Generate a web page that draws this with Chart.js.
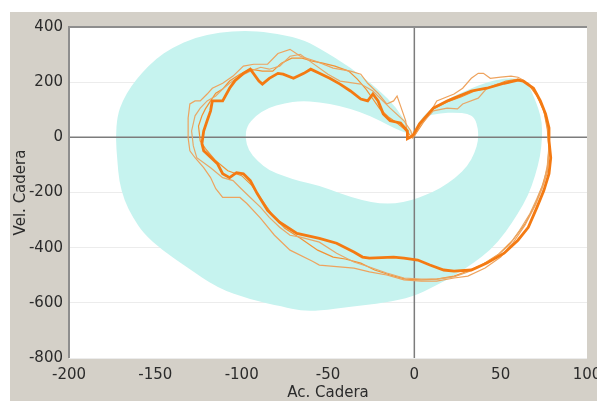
<!DOCTYPE html>
<html>
<head>
<meta charset="utf-8">
<script src="https://cdn.jsdelivr.net/npm/chart.js@4.4.1/dist/chart.umd.min.js"></script>
<style>
  body { margin: 0; background: #ffffff; overflow: hidden; width: 597px; height: 401px; }
  #panel { position: absolute; left: 10px; top: 12px; width: 601px; height: 389px; background: #d4d0c8; }
</style>
</head>
<body>
<div id="panel"><canvas id="phase" width="601" height="389"></canvas></div>
<script>
// ---- data: [Ac. Cadera, Vel. Cadera] ----
const xTickValues = [-200, -150, -100, -50, 0, 50, 100];
const yTickValues = [-800, -600, -400, -200, 0, 200, 400];

// normal band (outer edge and the hole inside it)
const bandOuter = [[-1,13],[2,52],[8,96],[15,124],[24,153],[33,178],[42,200],[52,214],[60,214],[66,193],[69,150],[72,103],[74,52],[74,-2],[73,-67],[70,-139],[66,-211],[60,-276],[53,-344],[44,-409],[34,-456],[24,-499],[12,-539],[-1,-578],[-17,-600],[-37,-614],[-55,-629],[-66,-629],[-76,-614],[-95,-589],[-114,-546],[-132,-470],[-146,-409],[-157,-348],[-163,-290],[-168,-229],[-171,-157],[-172,-85],[-173,-2],[-172,78],[-169,132],[-164,186],[-158,232],[-150,283],[-140,326],[-127,362],[-113,380],[-98,387],[-84,380],[-66,359],[-55,323],[-37,254],[-21,175],[-10,106],[-2,23]];
const bandInner = [[-98,-2],[-97,41],[-92,78],[-85,106],[-75,124],[-66,132],[-55,128],[-43,114],[-31,92],[-20,60],[-11,31],[-5,16],[-2,9],[1,40],[6,75],[15,88],[24,90],[31,86],[35,70],[37,31],[37,-13],[35,-56],[31,-103],[24,-146],[15,-186],[6,-211],[-2,-229],[-11,-240],[-20,-240],[-30,-229],[-43,-204],[-55,-175],[-66,-160],[-75,-142],[-84,-121],[-91,-85],[-96,-49]];

// measured cycles
const cycleMain = [[-1,5],[3,49],[11,106],[19,132],[23,142],[33,168],[42,178],[52,196],[60,207],[63,204],[69,178],[73,132],[76,85],[78,34],[78,-13],[79,-74],[78,-132],[75,-193],[71,-254],[66,-326],[60,-373],[52,-420],[42,-456],[33,-481],[23,-485],[17,-481],[9,-463],[2,-445],[-6,-438],[-12,-434],[-26,-438],[-30,-434],[-35,-416],[-45,-384],[-55,-366],[-68,-348],[-78,-308],[-85,-265],[-91,-204],[-95,-157],[-99,-132],[-103,-128],[-107,-146],[-111,-132],[-114,-96],[-120,-60],[-122,-49],[-123,-23],[-122,23],[-120,60],[-118,96],[-117,132],[-111,132],[-107,178],[-104,204],[-99,232],[-95,247],[-90,204],[-88,193],[-84,214],[-79,232],[-76,229],[-70,214],[-64,232],[-60,247],[-55,232],[-49,214],[-43,193],[-37,168],[-31,139],[-27,132],[-24,157],[-21,132],[-18,85],[-14,60],[-8,52],[-4,23],[-4,-5],[-1,5]];
const cycleA = [[0,13],[3,52],[9,88],[13,132],[23,157],[28,178],[33,214],[37,232],[40,232],[44,214],[50,218],[56,222],[60,218],[64,204],[70,168],[74,114],[77,60],[78,-2],[78,-67],[77,-128],[74,-186],[70,-247],[64,-319],[57,-384],[50,-434],[41,-474],[31,-503],[23,-510],[13,-521],[4,-521],[-6,-517],[-16,-499],[-26,-488],[-35,-474],[-55,-463],[-59,-449],[-72,-409],[-81,-355],[-89,-294],[-97,-240],[-101,-218],[-111,-218],[-115,-186],[-118,-146],[-122,-110],[-127,-74],[-130,-49],[-131,-2],[-131,70],[-130,121],[-127,132],[-124,132],[-120,157],[-117,178],[-111,196],[-105,222],[-99,258],[-93,265],[-85,265],[-79,304],[-72,319],[-66,294],[-57,276],[-47,251],[-37,240],[-31,229],[-27,196],[-21,160],[-16,121],[-12,132],[-10,150],[-8,114],[-5,60],[-4,-2],[0,13]];
const cycleB = [[0,5],[3,41],[11,96],[19,106],[25,103],[28,121],[37,142],[42,178],[48,193],[54,196],[60,211],[66,196],[71,160],[75,103],[77,41],[78,-31],[77,-103],[75,-164],[71,-222],[67,-276],[61,-337],[55,-391],[47,-434],[38,-467],[31,-488],[23,-506],[13,-514],[4,-514],[-6,-510],[-16,-492],[-26,-470],[-35,-452],[-45,-420],[-55,-380],[-66,-362],[-72,-355],[-78,-326],[-84,-290],[-89,-254],[-95,-218],[-101,-182],[-105,-157],[-111,-146],[-118,-110],[-126,-74],[-128,-31],[-129,23],[-127,78],[-124,106],[-120,132],[-115,150],[-111,175],[-107,196],[-101,222],[-95,240],[-89,254],[-84,247],[-78,258],[-72,294],[-66,301],[-59,269],[-50,229],[-43,204],[-31,193],[-24,168],[-14,106],[-6,60],[-2,23],[-1,-2],[0,5]];
const cycleC = [[0,5],[5,52],[11,103],[19,128],[27,146],[35,168],[44,182],[53,204],[60,211],[66,193],[71,150],[75,96],[77,31],[78,-41],[77,-114],[74,-178],[70,-243],[64,-315],[57,-373],[49,-423],[39,-463],[31,-485],[23,-503],[13,-514],[4,-517],[-5,-514],[-14,-499],[-23,-481],[-31,-456],[-40,-441],[-47,-434],[-56,-409],[-66,-366],[-75,-330],[-82,-283],[-88,-229],[-94,-175],[-100,-139],[-108,-121],[-115,-85],[-121,-41],[-124,-13],[-125,41],[-123,78],[-121,103],[-118,132],[-115,160],[-111,175],[-107,204],[-101,229],[-95,247],[-88,240],[-82,240],[-77,269],[-71,287],[-65,287],[-59,276],[-53,269],[-46,258],[-38,240],[-33,211],[-28,175],[-24,139],[-20,103],[-15,74],[-10,52],[-6,31],[-2,5],[0,5]];

const toPoints = arr => arr.map(([a, v]) => ({ x: a, y: v }));

// band drawn through the scales, under the cycles
const bandPlugin = {
    id: 'band',
    beforeDraw(chart) {
        // white plot area
        const { ctx, chartArea } = chart;
        ctx.save();
        ctx.fillStyle = '#ffffff';
        ctx.fillRect(chartArea.left, chartArea.top, chartArea.width, chartArea.height);
        ctx.restore();
    },
    beforeDatasetsDraw(chart) {
        const { ctx, chartArea, scales: { x, y } } = chart;
        ctx.save();
        ctx.beginPath();
        ctx.rect(chartArea.left, chartArea.top, chartArea.width, chartArea.height);
        ctx.clip();
        ctx.beginPath();
        [bandOuter, bandInner].forEach(ring => {
            const pts = ring.map(([a, v]) => [x.getPixelForValue(a), y.getPixelForValue(v)]);
            const n = pts.length;
            const mid = i => [(pts[i][0] + pts[(i + 1) % n][0]) / 2, (pts[i][1] + pts[(i + 1) % n][1]) / 2];
            ctx.moveTo(...mid(n - 1));
            for (let i = 0; i < n; i++) {
                const m = mid(i);
                ctx.quadraticCurveTo(pts[i][0], pts[i][1], m[0], m[1]);
            }
            ctx.closePath();
        });
        ctx.fillStyle = '#c6f3ef';
        ctx.fill('evenodd');
        ctx.restore();
    },
    afterDatasetsDraw(chart) {
        // sunken frame: left and top edges
        const { ctx, chartArea } = chart;
        ctx.save();
        ctx.strokeStyle = '#8e8e8e';
        ctx.lineWidth = 2;
        ctx.beginPath();
        ctx.moveTo(chartArea.left, chartArea.bottom);
        ctx.lineTo(chartArea.left, chartArea.top);
        ctx.lineTo(chartArea.right, chartArea.top);
        ctx.stroke();
        ctx.restore();
    }
};

const axisFont = { family: 'DejaVu Sans', size: 15 };
const lineStyle = (data, color, width, order) => ({
    data: toPoints(data),
    showLine: true,
    borderColor: color,
    borderWidth: width,
    pointRadius: 0,
    tension: 0,
    fill: false,
    order: order
});

new Chart(document.getElementById('phase'), {
    type: 'scatter',
    data: {
        datasets: [
            lineStyle(cycleMain, '#f47a12', 2.8, 1),
            lineStyle(cycleA, '#eea35e', 1.2, 2),
            lineStyle(cycleB, '#e8a868', 1.2, 2),
            lineStyle(cycleC, '#f39234', 1.2, 2),
            lineStyle([[xTickValues[0], 0], [xTickValues[xTickValues.length - 1], 0]], '#7c7c7c', 1.5, 5),
            lineStyle([[0, yTickValues[0]], [0, yTickValues[yTickValues.length - 1]]], '#7c7c7c', 1.5, 5)
        ]
    },
    options: {
        responsive: false,
        animation: false,
        events: [],
        layout: { padding: { left: 0, top: 13, right: 24, bottom: 0 } },
        plugins: { legend: { display: false }, tooltip: { enabled: false } },
        scales: {
            x: {
                type: 'linear',
                min: -200,
                max: 100,
                afterBuildTicks: axis => { axis.ticks = xTickValues.map(v => ({ value: v })); },
                afterFit: axis => { axis.height = 43; },
                grid: { display: false, drawTicks: false },
                border: { display: false },
                ticks: { color: '#2b2b2b', font: axisFont, padding: 8, maxRotation: 0 },
                title: { display: true, text: 'Ac. Cadera', color: '#2b2b2b', font: { family: 'DejaVu Sans', size: 15, lineHeight: 1 }, padding: { top: 0, bottom: 0 } }
            },
            y: {
                type: 'linear',
                min: -800,
                max: 400,
                afterBuildTicks: axis => { axis.ticks = yTickValues.map(v => ({ value: v })); },
                afterFit: axis => { axis.width = 59; },
                grid: { color: '#ececec', lineWidth: 1, drawTicks: false },
                border: { display: false },
                ticks: { color: '#2b2b2b', font: axisFont, padding: 6 },
                title: { display: true, text: 'Vel. Cadera', color: '#2b2b2b', font: axisFont, padding: { top: 2, bottom: 0 } }
            }
        }
    },
    plugins: [bandPlugin]
});
</script>
</body>
</html>
